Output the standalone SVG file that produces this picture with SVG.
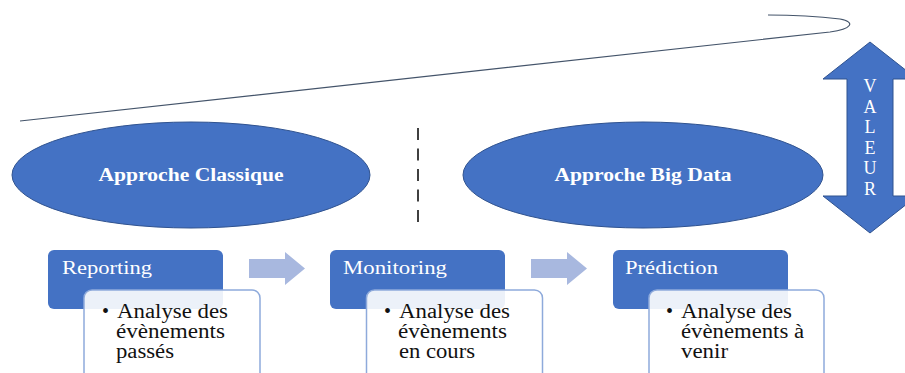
<svg xmlns="http://www.w3.org/2000/svg" width="905" height="373" viewBox="0 0 905 373">
<style>
.ell{fill:#4472c4;stroke:#2f528f;stroke-width:1}
.eltx{font-family:"Liberation Serif",serif;font-weight:bold;font-size:18.5px;fill:#fff;text-anchor:middle}
.hdr{fill:#4472c4}
.sub{fill:#fff;fill-opacity:0.9;stroke:#8eaadb;stroke-width:1.5}
.htx{font-family:"Liberation Serif",serif;font-size:19px;fill:#fff}
.btx{font-family:"Liberation Serif",serif;font-size:20px;fill:#111}
.flow{fill:#a8b8df}
.val{font-family:"Liberation Serif",serif;font-size:18px;fill:#fff;text-anchor:middle}
</style>
<rect width="905" height="373" fill="#fff"/>
<g id="curve">
<path d="M20,121 C400,78 760,42 830,32 C852,29 856,22 840,19 C815,16 790,15 768,15" fill="none" stroke="#44546a" stroke-width="1.2"/>
</g>
<g id="valeur">
<path d="M870,42 L917,79 L893,79 L893,196 L917,196 L870,233 L823,196 L847,196 L847,79 L823,79 Z" fill="#4472c4" stroke="#2f528f" stroke-width="1"/>
<text class="val" x="870" y="92">V</text>
<text class="val" x="870" y="112.6">A</text>
<text class="val" x="870" y="133.2">L</text>
<text class="val" x="870" y="153.8">E</text>
<text class="val" x="870" y="174.4">U</text>
<text class="val" x="870" y="195">R</text>
</g>
<g id="classique">
<ellipse class="ell" cx="191" cy="175" rx="179" ry="53"/>
<text class="eltx" x="191" y="181" textLength="185" lengthAdjust="spacingAndGlyphs">Approche Classique</text>
</g>
<g id="bigdata">
<ellipse class="ell" cx="643" cy="175" rx="180" ry="53"/>
<text class="eltx" x="643" y="181" textLength="177" lengthAdjust="spacingAndGlyphs">Approche Big Data</text>
</g>
<g id="separator">
<line x1="418" y1="128" x2="418" y2="224" stroke="#404040" stroke-width="2" stroke-dasharray="12 8.5"/>
</g>
<g id="connectors">
<path class="flow" d="M249,259 L285,259 L285,252 L305,268.5 L285,285 L285,278 L249,278 Z"/>
<path class="flow" d="M531,259 L567,259 L567,252 L587,268.5 L567,285 L567,278 L531,278 Z"/>
</g>
<g id="reporting">
<rect class="hdr" x="48" y="250" width="175" height="59" rx="6"/>
<rect class="sub" x="84" y="290" width="176" height="100" rx="8"/>
<text class="htx" x="62" y="274" textLength="90" lengthAdjust="spacingAndGlyphs">Reporting</text>
<text class="btx" x="102" y="318">•</text>
<text class="btx" x="117" y="318" textLength="111" lengthAdjust="spacingAndGlyphs">Analyse des</text>
<text class="btx" x="116" y="338" textLength="109" lengthAdjust="spacingAndGlyphs">évènements</text>
<text class="btx" x="116" y="358" textLength="58" lengthAdjust="spacingAndGlyphs">passés</text>
</g>
<g id="monitoring">
<rect class="hdr" x="330" y="250" width="175" height="59" rx="6"/>
<rect class="sub" x="366.5" y="290" width="176" height="100" rx="8"/>
<text class="htx" x="343" y="274" textLength="104" lengthAdjust="spacingAndGlyphs">Monitoring</text>
<text class="btx" x="384" y="318">•</text>
<text class="btx" x="399" y="318" textLength="111" lengthAdjust="spacingAndGlyphs">Analyse des</text>
<text class="btx" x="398" y="338" textLength="109" lengthAdjust="spacingAndGlyphs">évènements</text>
<text class="btx" x="399" y="358" textLength="76" lengthAdjust="spacingAndGlyphs">en cours</text>
</g>
<g id="prediction">
<rect class="hdr" x="613" y="250" width="175" height="59" rx="6"/>
<rect class="sub" x="649" y="290" width="175" height="100" rx="8"/>
<text class="htx" x="625" y="274" textLength="93" lengthAdjust="spacingAndGlyphs">Prédiction</text>
<text class="btx" x="666" y="318">•</text>
<text class="btx" x="681" y="318" textLength="111" lengthAdjust="spacingAndGlyphs">Analyse des</text>
<text class="btx" x="681" y="338" textLength="123" lengthAdjust="spacingAndGlyphs">évènements à</text>
<text class="btx" x="681" y="358" textLength="47" lengthAdjust="spacingAndGlyphs">venir</text>
</g>
</svg>
